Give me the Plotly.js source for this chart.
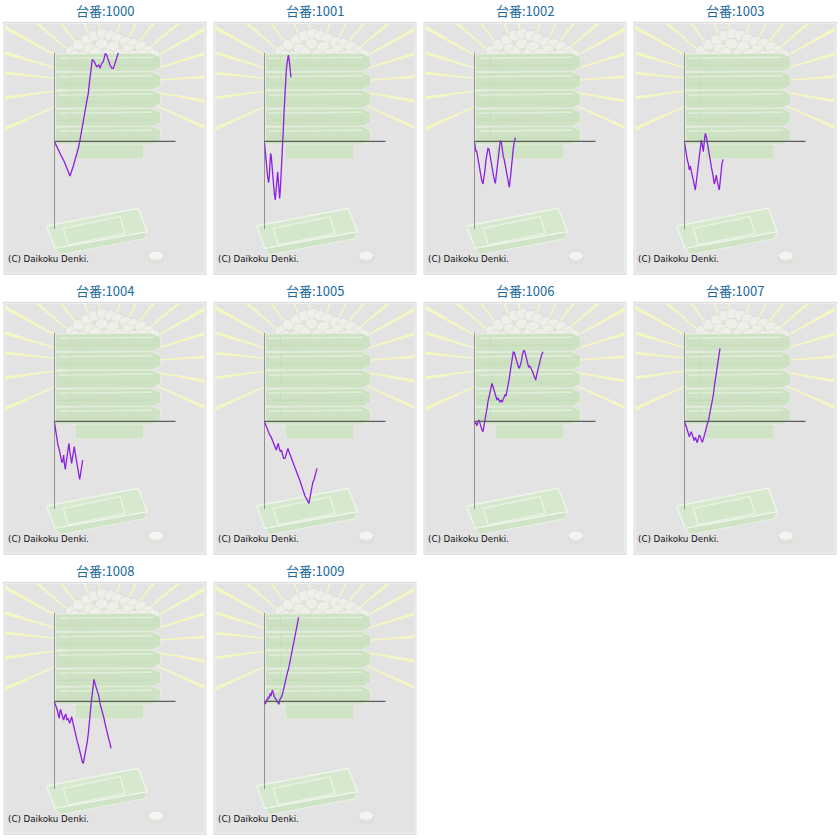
<!DOCTYPE html>
<html>
<head>
<meta charset="utf-8">
<script src="https://cdn.plot.ly/plotly-3.0.1.min.js"></script>
<style>
html,body{margin:0;padding:0;background:#ffffff;}
#chart{width:840px;height:840px;}
</style>
</head>
<body>
<div id="chart"></div>
<script>
// ---------- data ----------
const machines = ['1000','1001','1002','1003','1004','1005','1006','1007','1008','1009'];
const titlePrefix = '台番:';
const copyright = '(C) Daikoku Denki.';

const games1000 = [0,7,15,22,30,37,42,47,52,57,62,67,72,77,82,87,92,97,102,105,109,114,120,127,133,137,142,147,153,157,162,167,173,177,182,187,192];
const diff1000  = [0,-160,-340,-460,-610,-760,-910,-1040,-910,-740,-560,-410,-210,40,290,590,890,1190,1440,1740,2090,2460,2390,2240,2290,2190,2340,2390,2640,2590,2440,2290,2190,2190,2340,2540,2660];

const games1001 = [0,2,5,8,10,13,15,17,19,21,23,25,27,30,33,36,38,40,42,44,46,48,51,53,55,57,59,61,63,66,69,72,74,76,78,80];
const diff1001  = [0,-260,-560,-860,-1060,-1240,-1060,-660,-360,-460,-760,-1060,-1310,-1560,-1760,-1460,-1060,-910,-1160,-1560,-1710,-1460,-960,-460,-60,340,840,1340,1740,2140,2390,2590,2490,2240,1990,1920];

const games1002 = [0,3,5,7,10,13,16,19,22,26,29,32,35,38,41,44,47,50,53,56,59,63,66,69,72,75,78,81,84,87,90,93,96,99,102,105,108,111,114,117,120,123];
const diff1002  = [0,-160,-310,-280,-460,-660,-860,-1010,-1160,-1280,-1110,-860,-560,-310,-210,-230,-410,-610,-810,-960,-1110,-1260,-1010,-710,-410,-160,20,-10,-260,-460,-560,-710,-860,-1010,-1210,-1380,-1110,-760,-460,-210,-10,110];

const games1003 = [0,3,6,9,12,15,18,21,24,27,30,33,36,39,42,45,48,51,54,57,60,63,66,69,72,75,78,81,84,87,90,93,96,99,102,105,108,110,113,117];
const diff1003  = [0,-210,-410,-560,-660,-860,-740,-910,-1010,-1160,-1310,-1460,-1210,-860,-560,-360,-160,40,-110,-310,-10,240,140,-60,-260,-460,-610,-760,-910,-1060,-1280,-1160,-1010,-1210,-1360,-1460,-1160,-860,-660,-540];

const games1004 = [0,2,5,8,11,14,17,20,23,26,28,30,33,36,39,42,44,46,49,52,55,58,60,62,65,68,71,74,76,79,82,85];
const diff1004  = [0,-160,-360,-560,-710,-810,-960,-1110,-1240,-1160,-1010,-1260,-1440,-1210,-960,-710,-660,-860,-1060,-1260,-1060,-860,-760,-910,-1110,-1260,-1360,-1560,-1740,-1560,-1360,-1160];

const games1005 = [0,4,8,12,16,20,24,28,32,36,39,42,45,48,51,54,58,62,65,68,71,74,78,82,86,90,94,98,102,106,110,114,118,122,126,130,134,137,140,143,146,149,152,155,158];
const diff1005  = [0,-110,-210,-310,-410,-460,-560,-660,-760,-860,-740,-660,-810,-910,-860,-1010,-1110,-1110,-1010,-880,-810,-910,-1010,-1110,-1210,-1310,-1410,-1540,-1660,-1760,-1880,-2010,-2130,-2240,-2310,-2380,-2460,-2280,-2110,-1940,-1810,-1760,-1610,-1510,-1410];

const games1006 = [0,3,5,8,11,14,17,20,23,26,29,32,35,38,41,44,47,50,53,56,59,62,65,68,71,74,77,80,83,86,89,92,95,98,101,104,107,110,113,117,120,123,126,129,132,135,138,141,144,148,151,154,157,160,163,166,169,172,175,178,181,184,187,190,193,196,199,202,206];
const diff1006  = [0,-80,-40,-130,-10,40,-60,-210,-260,-310,-160,40,190,390,590,740,940,1040,1140,1040,940,840,740,640,690,640,590,640,570,640,740,790,760,890,1040,1240,1440,1640,1840,2090,2060,1940,1840,1740,1640,1590,1690,1790,1990,2120,2110,1990,1840,1690,1620,1660,1620,1540,1490,1390,1290,1240,1390,1540,1690,1790,1890,1990,2090];

const games1007 = [0,3,6,9,12,15,18,21,24,27,30,33,36,39,42,45,48,51,54,57,60,63,66,69,72,75,78,81,84,87,90,93,96,99,102,105,107];
const diff1007  = [0,-60,-160,-260,-360,-460,-390,-310,-410,-540,-580,-480,-560,-640,-510,-410,-460,-560,-630,-540,-410,-280,-160,-80,0,140,290,490,590,790,1040,1240,1440,1690,1890,2090,2190];

const games1008 = [0,3,6,9,12,15,17,19,22,25,28,31,34,36,38,41,43,46,49,52,54,57,60,63,66,69,72,75,78,81,84,87,90,93,96,99,102,105,108,111,114,117,119,122,125,128,131,134,137,140,143,146,149,152,155,158,161,164,167,170];
const diff1008  = [0,-80,-160,-260,-410,-510,-310,-240,-360,-460,-560,-460,-380,-460,-560,-510,-580,-660,-560,-460,-560,-710,-860,-1010,-1110,-1210,-1310,-1460,-1610,-1710,-1810,-1860,-1710,-1560,-1460,-1210,-960,-560,-260,-10,240,540,660,540,440,320,240,140,-60,-160,-310,-410,-510,-660,-810,-960,-1040,-1160,-1260,-1410];

const games1009 = [0,2,4,6,8,10,12,14,16,18,20,22,24,26,28,30,33,36,39,42,44,46,49,52,55,58,61,64,67,70,73,76,79,82,85,88,91,94,97,100,103];
const diff1009  = [0,-80,-60,-10,60,40,140,90,190,240,160,290,340,290,190,140,90,40,-10,-60,-90,40,90,140,240,390,490,640,790,890,990,1140,1290,1440,1590,1740,1890,2090,2240,2390,2520];

const gamesList = [games1000,games1001,games1002,games1003,games1004,games1005,games1006,games1007,games1008,games1009];
const diffList  = [diff1000,diff1001,diff1002,diff1003,diff1004,diff1005,diff1006,diff1007,diff1008,diff1009];

const xRange = [0, 364];
const yRange = [-2630, 2660];

// ---------- background illustration (SVG, panel-local coords 203x253) ----------
function buildBackground() {
  const cx = 103, cy = 62;
  const angles = [156,172,-174,-163,-151,-139,-127,-110,-97,-78,-64,-52,-40,-29,-17,-4,10,24];
  let rays = '';
  angles.forEach(a => {
    const r0 = 36, r1 = 240, h = 1.0 * Math.PI / 180;
    const t = a * Math.PI / 180;
    const p = (r, ang) => (cx + r * Math.cos(ang)).toFixed(1) + ',' + (cy + r * Math.sin(ang)).toFixed(1);
    rays += `<polygon points="${p(r0,t-h/2)} ${p(r1,t-h)} ${p(r1,t+h)} ${p(r0,t+h/2)}" fill="#f6f6c2"/>`;
  });
  const balls = [[68,29],[75,23],[83,18],[91,14],[99,12],[107,14],[114,17],[122,20],[130,22],[138,25],[145,29],[150,33],
                 [72,34],[86,27],[98,22],[110,25],[124,28],[138,33],[92,31],[116,32],[80,35],[104,33],[130,34]];
  let ballSvg = '';
  balls.forEach(b => {
    ballSvg += `<ellipse cx="${b[0]}" cy="${b[1]}" rx="6.2" ry="5.4" fill="#efefea" stroke="#d8d8d0" stroke-width="0.6"/>`;
  });
  const sticks = [92,104,121,134];
  let stickSvg = '';
  sticks.forEach(x => { stickSvg += `<line x1="${x}" y1="24" x2="${x}" y2="46" stroke="#f4f4d8" stroke-width="1"/>`; });
  const trayTops = [31.5, 50, 68.3, 86.6, 104.5];
  let trays = '';
  trays += `<polygon points="69,40 141,40 140,137 72,137" fill="#cfe3c5" stroke="#efefef" stroke-width="0.7" stroke-dasharray="1.5,1"/>`;
  trayTops.forEach(t => {
    trays += `<polygon points="52,${t+1} 148,${t} 157,${t+4} 157,${t+14} 149,${t+18} 52,${t+18}" fill="#cde2c2" stroke="#e9f1e5" stroke-width="0.7"/>`;
    trays += `<line x1="55" y1="${t+5}" x2="149" y2="${t+4}" stroke="#e1eedb" stroke-width="1.6"/>`;
    trays += `<line x1="55" y1="${t+12}" x2="150" y2="${t+12}" stroke="#c4dbb8" stroke-width="1"/>`;
    trays += `<line x1="67" y1="${t+3}" x2="67" y2="${t+17}" stroke="#c6dcba" stroke-width="0.8"/>`;
  });
  const tray = `
    <polygon points="51.5,226.6 56,233 141,217 143.8,210" fill="#cfe3c6" stroke="#edf5ea" stroke-width="0.8"/>
    <polygon points="43.2,204.3 134.8,186.6 143.8,210 51.5,226.6" fill="#d6e9ce" stroke="#eef6ea" stroke-width="1.3"/>
    <polygon points="59.8,206.6 116.5,195 121.5,211.6 64.8,223.3" fill="#d3e7cb" stroke="#eaf4e6" stroke-width="1.3"/>`;
  const coin = `
    <ellipse cx="152.5" cy="236" rx="7.5" ry="5" fill="#e6e6e2" stroke="#cfcfca" stroke-width="0.6"/>
    <ellipse cx="152.5" cy="234" rx="7.5" ry="4.6" fill="#f4f4f1" stroke="#d6d6d0" stroke-width="0.6"/>`;
  const svg = `<svg xmlns="http://www.w3.org/2000/svg" width="203" height="253" viewBox="0 0 203 253" preserveAspectRatio="none">
    <defs><clipPath id="c"><rect x="2" y="2" width="199" height="249"/></clipPath></defs>
    <rect x="0" y="0" width="203" height="253" fill="#e3e3e3"/>
    <g clip-path="url(#c)">${rays}</g>
    ${ballSvg}${stickSvg}${trays}${tray}${coin}
    <rect x="0.5" y="0.5" width="202" height="252" fill="none" stroke="#cbcbcb" stroke-width="1"/>
    <rect x="1.5" y="1.5" width="200" height="250" fill="none" stroke="#f4f4f4" stroke-width="1"/>
  </svg>`;
  return 'data:image/svg+xml;charset=utf-8,' + encodeURIComponent(svg);
}

// ---------- figure ----------
const W = 840, H = 840;
const bg = buildBackground();
const traces = [];
const layout = {
  width: W, height: H,
  margin: {l:0, r:0, t:0, b:0},
  paper_bgcolor: '#ffffff',
  plot_bgcolor: 'rgba(0,0,0,0)',
  showlegend: false,
  images: [], shapes: [], annotations: []
};

machines.forEach((m, i) => {
  const c = i % 4, r = Math.floor(i / 4);
  const ox = 210 * c, oy = 280 * r;
  const n = i === 0 ? '' : String(i + 1);
  const xa = 'xaxis' + n, ya = 'yaxis' + n;
  const x0 = 54.3 + ox, x1 = 175.7 + ox, yt = 52.7 + oy, yb = 229 + oy;
  layout[xa] = {domain: [x0 / W, x1 / W], range: xRange, visible: false, fixedrange: true, anchor: 'y' + n};
  layout[ya] = {domain: [1 - yb / H, 1 - yt / H], range: yRange, visible: false, fixedrange: true, anchor: 'x' + n};

  layout.images.push({
    source: bg, xref: 'paper', yref: 'paper',
    x: (3.5 + ox) / W, y: 1 - (21.7 + oy) / H,
    sizex: 203 / W, sizey: 253 / H,
    xanchor: 'left', yanchor: 'top', sizing: 'stretch', layer: 'below'
  });

  layout.shapes.push({type: 'line', xref: 'x' + n, yref: 'y' + n, x0: 0, x1: 0, y0: yRange[0], y1: yRange[1],
    line: {color: '#5c5c5c', width: 1.1}});
  layout.shapes.push({type: 'line', xref: 'x' + n, yref: 'y' + n, x0: -9, x1: xRange[1], y0: 0, y1: 0,
    line: {color: '#5c5c5c', width: 1.1}});

  layout.annotations.push({
    text: titlePrefix + m, xref: 'paper', yref: 'paper',
    x: (105 + ox) / W, y: 1 - (10.5 + oy) / H, xanchor: 'center', yanchor: 'middle',
    showarrow: false, font: {family: 'Noto Sans CJK JP, DejaVu Sans, sans-serif', size: 13, color: '#226a9c'}
  });
  layout.annotations.push({
    text: copyright, xref: 'paper', yref: 'paper',
    x: (5.5 + ox) / W, y: 1 - (259.3 + oy) / H, xanchor: 'left', yanchor: 'middle',
    showarrow: false, font: {family: 'DejaVu Sans, Verdana, sans-serif', size: 8.7, color: '#111111'}
  });

  traces.push({
    x: gamesList[i], y: diffList[i], xaxis: 'x' + n, yaxis: 'y' + n,
    type: 'scatter', mode: 'lines', cliponaxis: false,
    line: {color: '#8e1fe3', width: 1.3}, hoverinfo: 'skip', name: titlePrefix + m
  });
});

Plotly.newPlot('chart', traces, layout, {staticPlot: true, displayModeBar: false});
</script>
</body>
</html>
